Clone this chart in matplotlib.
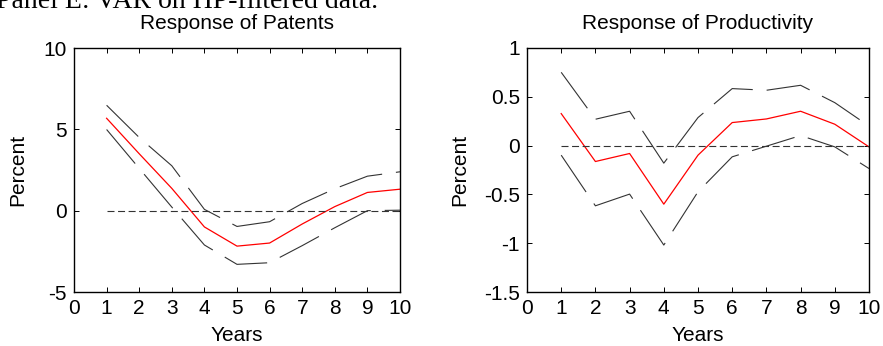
import numpy as np
import matplotlib
matplotlib.use("Agg")
import matplotlib.pyplot as plt

plt.rcParams['font.family'] = ['Liberation Sans', 'DejaVu Sans']
plt.rcParams['axes.unicode_minus'] = False

# Datos
years = [1, 2, 3, 4, 5, 6, 7, 8, 9, 10]

pat_resp = [5.68, 3.5, 1.37, -1.0, -2.18, -1.99, -0.82, 0.25, 1.12, 1.32]
pat_up = [6.48, 4.5, 2.76, 0.08, -0.97, -0.68, 0.44, 1.35, 2.12, 2.39]
pat_lo = [4.99, 2.6, 0.22, -2.11, -3.3, -3.2, -2.15, -1.05, 0.0, 0.03]

prod_resp = [0.328, -0.163, -0.081, -0.60, -0.098, 0.236, 0.273, 0.352, 0.219, -0.013]
prod_up = [0.751, 0.27, 0.352, -0.18, 0.287, 0.584, 0.567, 0.618, 0.44, 0.2]
prod_lo = [-0.098, -0.617, -0.497, -1.019, -0.473, -0.115, -0.006, 0.103, -0.013, -0.235]

xticks = list(range(0, 11))
pat_yticks = [-5, 0, 5, 10]
prod_yticks = [-1.5, -1, -0.5, 0, 0.5, 1]

fs = 15

fig = plt.figure(figsize=(8.83, 3.46), dpi=100)
fig.text(-0.004, 1 - 8 / 346, 'Panel E: VAR on HP-filtered data.', family='Liberation Serif',
         fontsize=20, ha='left', va='baseline')


def panel(rect, resp, up, lo, yticks, ylim, title, ylpad):
    ax = fig.add_axes(rect)
    ax.plot(years, up, color='#333333', lw=0.8, dashes=(40, 12.5))
    ax.plot(years, lo, color='#333333', lw=0.8, dashes=(40, 12.5))
    ax.plot(years, resp, color='red', lw=0.9)
    ax.plot([1, 10], [0, 0], color='#333333', lw=0.8, dashes=(6.3, 3.2))
    ax.set_xlim(0, 10)
    ax.set_ylim(*ylim)
    ax.set_xticks(xticks)
    ax.set_yticks(yticks)
    ax.set_yticklabels(['%g' % v for v in yticks])
    ax.tick_params(direction='in', top=True, right=True, length=3.5, width=0.7,
                   labelsize=fs, pad=5)
    for s in ax.spines.values():
        s.set_linewidth(1.0)
    ax.set_title(title, fontsize=fs, pad=13.5)
    ax.set_xlabel('Years', fontsize=fs, labelpad=5.5)
    ax.set_ylabel('Percent', fontsize=fs, labelpad=ylpad)
    return ax


ax1 = panel([74 / 883, 54 / 346, 326 / 883, 244 / 346], pat_resp, pat_up, pat_lo,
            pat_yticks, (-5, 10), 'Response of Patents', 12)
ax2 = panel([527 / 883, 54 / 346, 342 / 883, 244 / 346], prod_resp, prod_up, prod_lo,
            prod_yticks, (-1.5, 1), 'Response of Productivity', 11)

fig.savefig('out.png', dpi=100)
